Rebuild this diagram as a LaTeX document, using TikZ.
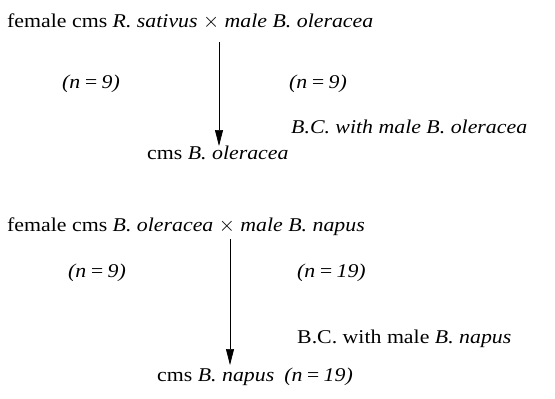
\documentclass[tikz,border=0pt]{standalone}
\usepackage{fontspec}
\setmainfont{Liberation Serif}[FakeStretch=1.12]
\usetikzlibrary{arrows.meta}
\begin{document}
\begin{tikzpicture}[x=1pt,y=-1pt,
  lbl/.style={inner sep=0pt,anchor=base west,font=\fontsize{19.5}{22}\selectfont},
  arr/.style={-{Triangle[length=16pt,width=8pt]},line width=0.7pt}]
\useasboundingbox (0,0) rectangle (555,399);
\node[lbl] (t1) at (7,27) {female cms \textit{R. sativus} $\times$ \textit{male B. oleracea}};
\coordinate (a1s) at (219,42);
\node[lbl] (n1l) at (62,88) {\textit{(n\,=\,9)}};
\node[lbl] (n1r) at (289,88) {\textit{(n\,=\,9)}};
\node[lbl] (bc1) at (291,133) {\textit{B.C. with male B. oleracea}};
\node[lbl] (c1) at (147,159) {cms \textit{B. oleracea}};
\coordinate (a1e) at (219,146);
\draw[arr] (a1s) -- (a1e);
\node[lbl] (t2) at (7,231) {female cms \textit{B. oleracea} $\times$ \textit{male B. napus}};
\coordinate (a2s) at (230,239);
\node[lbl] (n2l) at (68,277) {\textit{(n\,=\,9)}};
\node[lbl] (n2r) at (297,277) {\textit{(n\,=\,19)}};
\node[lbl] (bc2) at (297,343) {B.C. with male \textit{B. napus}};
\node[lbl] (c2) at (157,381) {cms \textit{B. napus}\hspace{10pt}\textit{(n\,=\,19)}};
\coordinate (a2e) at (230,365);
\draw[arr] (a2s) -- (a2e);
\end{tikzpicture}
\end{document}
